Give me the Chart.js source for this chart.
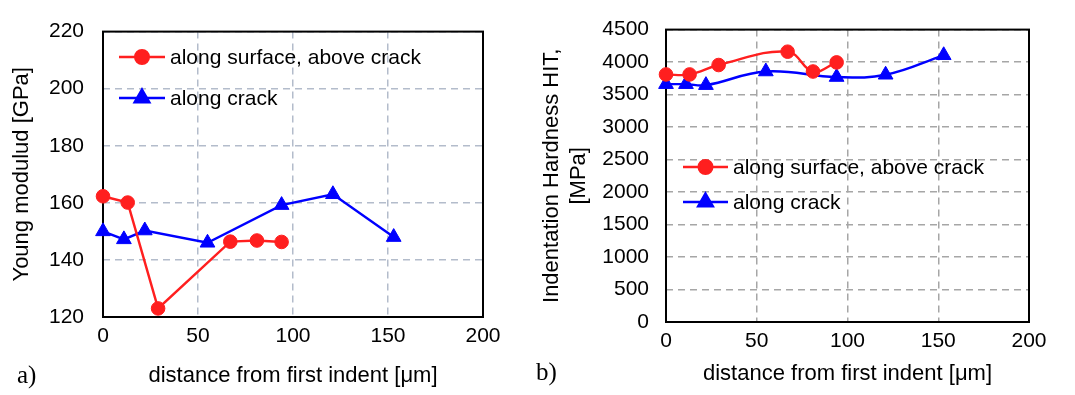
<!DOCTYPE html>
<html>
<head>
<meta charset="utf-8">
<script src="https://cdn.jsdelivr.net/npm/chart.js"></script>
<style>
  body { margin: 0; background: #fff; width: 1075px; height: 395px; position: relative; overflow: hidden; }
  #boxA { position: absolute; left: 0; top: 0; width: 520px; height: 395px; }
  #boxB { position: absolute; left: 530px; top: 0; width: 545px; height: 395px; }
  .tag { position: absolute; font-family: "Liberation Serif", serif; font-size: 25px; color: #000; }
</style>
</head>
<body>
<div id="boxA"><canvas id="chartA"></canvas></div>
<div id="boxB"><canvas id="chartB"></canvas></div>
<div class="tag" style="left:17px; top:361px">a)</div>
<div class="tag" style="left:536px; top:358px">b)</div>
<script>
'use strict'

// distances from first indent [um]
var surfaceX = [0, 13, 29, 67, 81, 94]
var crackX = [0, 11, 22, 55, 94, 121, 153]

// a) Young modulus [GPa]
var youngSurface = [162.3, 160.1, 123, 146.4, 146.8, 146.3]
var youngCrack = [150, 147.2, 150.3, 146, 159.2, 163, 148]

// b) indentation hardness HIT [MPa]
var hardSurface = [3810, 3810, 3955, 4160, 3855, 3995]
var hardCrack = [3660, 3660, 3645, 3855, 3770, 3805, 4105]

var xTicks = [0, 50, 100, 150, 200]
var labels = ['along surface, above crack', 'along crack']

var FONT = 'Liberation Sans'
var TXT = '#000'
var RED = '#ff1f1f'
var BLUE = '#0000ff'

Chart.defaults.color = TXT

function pts(xs, ys) {
  return xs.map(function (x, i) { return { x: x, y: ys[i] } })
}

// black box round the plot area
var frame = {
  id: 'frame',
  beforeDatasetsDraw: function (chart) {
    var a = chart.chartArea, ctx = chart.ctx
    ctx.save()
    ctx.strokeStyle = '#000'
    ctx.lineWidth = 2
    ctx.strokeRect(a.left, a.top, a.right - a.left, a.bottom - a.top)
    ctx.restore()
  }
}

// legend drawn inside the plot
var insideLegend = {
  id: 'insideLegend',
  afterDraw: function (chart, args, opts) {
    var ctx = chart.ctx
    chart.data.datasets.forEach(function (ds, i) {
      var y = opts.y + i * opts.gap
      var mx = opts.x + opts.len / 2
      ctx.save()
      ctx.strokeStyle = ds.borderColor
      ctx.lineWidth = ds.borderWidth
      ctx.beginPath()
      ctx.moveTo(opts.x, y)
      ctx.lineTo(opts.x + opts.len, y)
      ctx.stroke()
      ctx.fillStyle = ds.pointBackgroundColor
      ctx.strokeStyle = ds.pointBorderColor
      Chart.helpers.drawPoint(ctx, {
        pointStyle: ds.pointStyle, radius: ds.pointRadius, rotation: 0, borderWidth: ds.pointBorderWidth
      }, mx, y)
      ctx.fillStyle = TXT
      ctx.font = '21px "' + FONT + '"'
      ctx.textBaseline = 'middle'
      ctx.fillText(ds.label, opts.x + opts.len + 5, y + 1)
      ctx.restore()
    })
  }
}

function dataset(label, xs, ys, color, style, tension) {
  return {
    label: label,
    data: pts(xs, ys),
    borderColor: color,
    backgroundColor: color,
    pointBackgroundColor: color,
    pointBorderColor: color,
    pointBorderWidth: 1,
    borderWidth: 2.4,
    pointStyle: style,
    pointRadius: style === 'triangle' ? 8.5 : 6.8,
    tension: tension,
    clip: false
  }
}

function makeChart(id, cfg) {
  var tickFont = { family: FONT, size: 21 }
  var titleFont = { family: FONT, size: 22 }
  return new Chart(document.getElementById(id), {
    type: 'line',
    data: {
      datasets: [
        dataset(labels[0], surfaceX, cfg.surface, RED, 'circle', cfg.tension),
        dataset(labels[1], crackX, cfg.crack, BLUE, 'triangle', cfg.tension)
      ]
    },
    options: {
      responsive: true,
      maintainAspectRatio: false,
      animation: false,
      layout: { padding: cfg.padding },
      plugins: {
        legend: { display: false },
        tooltip: { enabled: false },
        insideLegend: cfg.legend
      },
      scales: {
        x: {
          type: 'linear',
          min: 0,
          max: 200,
          afterFit: function (s) { s.height = cfg.xHeight },
          afterBuildTicks: function (s) { s.ticks = xTicks.map(function (v) { return { value: v } }) },
          ticks: { font: tickFont, color: TXT, padding: 7 },
          grid: { color: cfg.gridColor, lineWidth: 1.5, drawTicks: false },
          border: { display: false, dash: [7, 5] },
          title: { display: true, text: 'distance from first indent [μm]', font: titleFont, color: TXT, padding: { bottom: cfg.xTitlePad } }
        },
        y: {
          min: cfg.yMin,
          max: cfg.yMax,
          afterFit: function (s) { s.width = cfg.yWidth },
          ticks: {
            stepSize: cfg.yStep, font: tickFont, color: TXT, padding: cfg.yTickPad,
            callback: function (v) { return String(v) }
          },
          grid: { color: cfg.gridColor, lineWidth: 1.5, drawTicks: false },
          border: { display: false, dash: [7, 5] },
          title: { display: true, text: cfg.yTitle, font: titleFont, color: TXT, padding: { top: 9 } }
        }
      }
    },
    plugins: [frame, insideLegend]
  })
}

makeChart('chartA', {
  surface: youngSurface,
  crack: youngCrack,
  tension: 0,
  yMin: 120, yMax: 220, yStep: 20,
  yTitle: 'Young modulud [GPa]',
  padding: { top: 17, right: 37, left: 0, bottom: 0 },
  yWidth: 103, xHeight: 78, yTickPad: 19, xTitlePad: 6,
  gridColor: '#b3bccb',
  legend: { x: 119, y: 57, gap: 41, len: 46 }
})

makeChart('chartB', {
  surface: hardSurface,
  crack: hardCrack,
  tension: 0.4,
  yMin: 0, yMax: 4500, yStep: 500,
  yTitle: ['Indentation Hardness HIT,', '[MPa]'],
  padding: { top: 25, right: 46, left: 0, bottom: 0 },
  yWidth: 136, xHeight: 73, yTickPad: 17, xTitlePad: 8,
  gridColor: '#a6a6a6',
  legend: { x: 153, y: 167, gap: 35, len: 45 }
})
</script>
</body>
</html>
